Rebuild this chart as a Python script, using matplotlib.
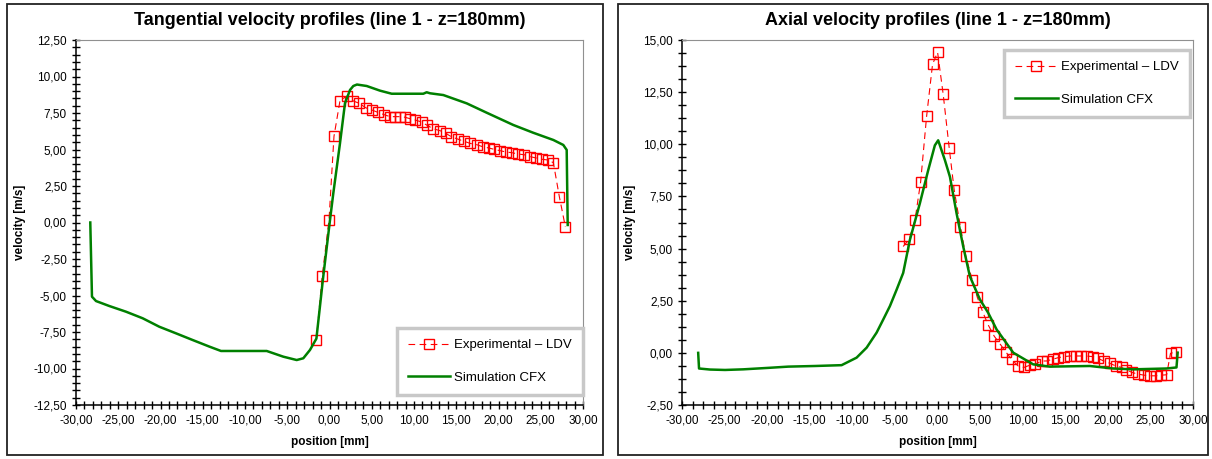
import matplotlib
matplotlib.use('Agg')
import matplotlib.pyplot as plt
from matplotlib.patches import Rectangle
from matplotlib.ticker import MultipleLocator, FuncFormatter

plt.rcParams['font.family'] = ['Liberation Sans', 'DejaVu Sans']

# tangential velocity, line 1 - z=180mm
tan_ldv_x = [-1.56, -0.86, -0.06, 0.53, 1.24, 2.04, 2.75, 3.53, 4.28, 4.99, 5.70, 6.49, 7.16, 7.75,
             8.34, 8.93, 9.53, 10.15, 10.91, 11.54, 12.28, 13.08, 13.75, 14.41, 15.24, 15.95, 16.63,
             17.42, 18.13, 18.88, 19.50, 20.18, 20.89, 21.60, 22.34, 23.05, 23.76, 24.44, 25.15,
             25.86, 26.49, 27.20, 27.91]
tan_ldv_v = [-8.05, -3.66, 0.17, 5.90, 8.34, 8.66, 8.34, 8.16, 7.86, 7.71, 7.55, 7.38, 7.25, 7.25,
             7.25, 7.21, 7.11, 7.02, 6.88, 6.66, 6.42, 6.29, 6.11, 5.88, 5.70, 5.56, 5.42,
             5.33, 5.19, 5.10, 5.01, 4.92, 4.83, 4.78, 4.69, 4.64, 4.51, 4.42, 4.33,
             4.28, 4.10, 1.77, -0.29]
tan_cfx_x = [-28.31, -28.11, -27.63, -26.06, -24.08, -22.11, -20.14, -18.17, -16.19, -14.22, -12.84,
             -11.07, -7.43, -5.47, -3.88, -3.10, -2.31, -1.55, -0.75, 0.06, 0.45, 1.24, 1.83, 2.43,
             2.82, 3.25, 4.40, 5.98, 7.36, 11.10, 11.50, 11.90, 13.47, 16.24, 18.60, 21.75, 24.10,
             26.50, 27.67, 28.07, 28.19]
tan_cfx_v = [0.00, -5.08, -5.38, -5.72, -6.11, -6.56, -7.14, -7.59, -8.05, -8.50, -8.80,
             -8.80, -8.80, -9.19, -9.42, -9.30, -8.73, -7.95, -3.75, 0.17, 2.00, 5.42, 8.16, 9.08,
             9.35, 9.45, 9.35, 9.03, 8.82, 8.82, 8.92, 8.85, 8.73, 8.16, 7.52, 6.68, 6.15,
             5.65, 5.31, 4.97, -0.17]

# axial velocity, line 1 - z=180mm
ax_ldv_x = [-4.03, -3.32, -2.65, -1.98, -1.28, -0.58, 0.01, 0.67, 1.37, 1.96, 2.69, 3.33,
            4.07, 4.66, 5.33, 5.95, 6.66, 7.32, 8.03, 8.70, 9.47, 10.14, 10.85, 11.43, 12.22,
            12.80, 13.51, 14.17, 14.87, 15.54, 16.21, 16.83, 17.50, 18.20, 18.86, 19.53, 20.23,
            20.94, 21.61, 22.19, 22.85, 23.56, 24.26, 24.93, 25.63, 26.30, 26.90, 27.36, 27.98]
ax_ldv_v = [5.10, 5.45, 6.35, 8.20, 11.34, 13.84, 14.41, 12.39, 9.84, 7.81, 6.05, 4.62,
            3.51, 2.68, 1.94, 1.34, 0.80, 0.44, 0.04, -0.31, -0.63, -0.70, -0.59, -0.55, -0.39,
            -0.39, -0.31, -0.23, -0.18, -0.15, -0.15, -0.15, -0.15, -0.18, -0.27, -0.39, -0.50,
            -0.63, -0.70, -0.82, -0.94, -1.02, -1.07, -1.10, -1.10, -1.07, -1.05, -0.02, 0.04]
ax_cfx_x = [-28.10, -28.00, -26.71, -24.95, -22.80, -19.87, -17.52, -14.39, -11.26, -9.50, -8.32,
            -7.15, -6.37, -5.59, -4.80, -4.03, -3.24, -2.07, -1.09, -0.31, 0.08, 0.87, 1.46, 2.24,
            3.02, 3.80, 4.98, 5.95, 6.94, 8.89, 11.23, 13.19, 17.89, 20.62, 22.97, 26.89, 28.06,
            28.20]
ax_cfx_v = [0.00, -0.75, -0.80, -0.82, -0.79, -0.72, -0.66, -0.63, -0.59, -0.23, 0.25,
            0.97, 1.60, 2.24, 3.03, 3.83, 5.42, 7.17, 8.76, 9.95, 10.19, 9.24, 8.44, 6.69,
            5.10, 3.67, 2.56, 1.92, 1.12, 0.01, -0.55, -0.66, -0.63, -0.75, -0.79, -0.75, -0.70,
            0.01]

W, H = 1212, 459
fig = plt.figure(figsize=(W / 100, H / 100), dpi=100)

# outer chart frames
for x0, x1 in [(7, 603), (618, 1208)]:
    fig.add_artist(Rectangle((x0 / W, 4 / H), (x1 - x0) / W, 451 / H, transform=fig.transFigure,
                             fill=False, ec='#222222', lw=1.3))

comma = FuncFormatter(lambda v, p: f'{v:.2f}'.replace('.', ','))


def style(ax, title, ylim, ymaj, ymin, xmin):
    ax.set_xlim(-30, 30)
    ax.set_ylim(*ylim)
    ax.xaxis.set_major_locator(MultipleLocator(5))
    ax.xaxis.set_minor_locator(MultipleLocator(xmin))
    ax.yaxis.set_major_locator(MultipleLocator(ymaj))
    ax.yaxis.set_minor_locator(MultipleLocator(ymin))
    ax.xaxis.set_major_formatter(comma)
    ax.yaxis.set_major_formatter(comma)
    ax.tick_params(which='both', direction='inout', length=6, width=1, labelsize=8.5, color='black')
    ax.tick_params(axis='x', pad=4)
    ax.spines['top'].set_color('#909090')
    ax.spines['right'].set_color('#909090')
    ax.spines['left'].set_linewidth(1.1)
    ax.spines['bottom'].set_linewidth(1.1)
    ax.set_title(title, fontsize=13, fontweight='bold', pad=11)
    ax.set_xlabel('position [mm]', fontsize=8.5, fontweight='bold', labelpad=7)
    ax.set_ylabel('velocity [m/s]', fontsize=8.5, fontweight='bold', labelpad=5)


ax1 = fig.add_axes([76 / W, 54 / H, 507 / W, 365 / H])
ax2 = fig.add_axes([682 / W, 54 / H, 511 / W, 365 / H])

for ax, lx, lv, cx, cv in [(ax1, tan_ldv_x, tan_ldv_v, tan_cfx_x, tan_cfx_v),
                          (ax2, ax_ldv_x, ax_ldv_v, ax_cfx_x, ax_cfx_v)]:
    ax.plot(lx, lv, color='red', lw=0.8, dashes=(6, 4), marker='s', ms=7.5,
            mfc='none', mec='red', mew=1.0, label='Experimental – LDV')
    ax.plot(cx, cv, color='#008000', lw=1.8, label='Simulation CFX')

style(ax1, 'Tangential velocity profiles (line 1 - z=180mm)', (-12.5, 12.5), 2.5, 0.5, 1)
style(ax2, 'Axial velocity profiles (line 1 - z=180mm)', (-2.5, 15), 2.5, 0.625, 1.25)

leg_kw = dict(fontsize=9.5, frameon=True, fancybox=False, framealpha=1, borderaxespad=0,
              handlelength=3.2, handletextpad=0.3, labelspacing=1.55, borderpad=0.85)
l1 = ax1.legend(loc='lower right', bbox_to_anchor=(1.0, 0.027), **leg_kw)
l2 = ax2.legend(loc='upper right', bbox_to_anchor=(0.995, 0.973), **leg_kw)
for lg in (l1, l2):
    lg.get_frame().set_edgecolor('#c8c8c8')
    lg.get_frame().set_linewidth(2.5)

fig.savefig('out.png', dpi=100)
